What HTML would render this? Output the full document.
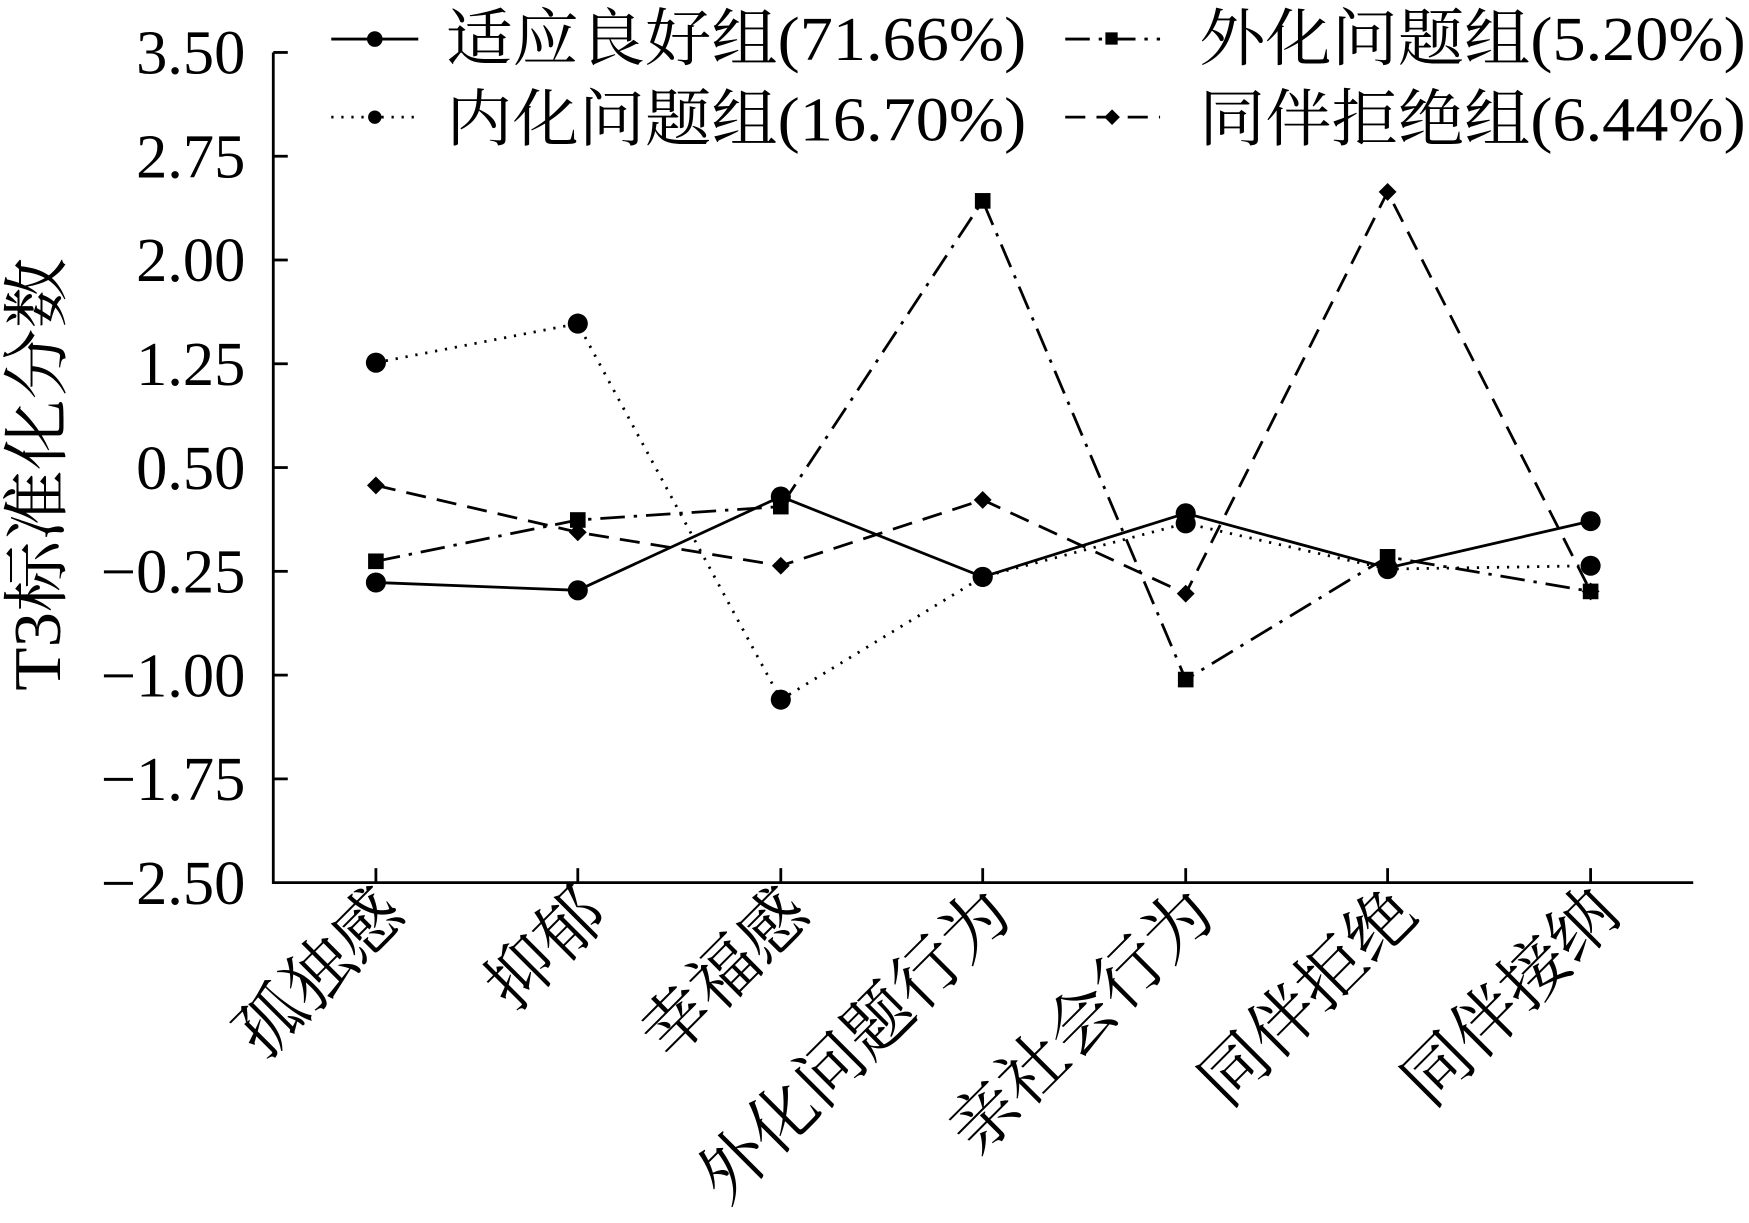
<!DOCTYPE html>
<html><head><meta charset="utf-8"><style>html,body{margin:0;padding:0;background:#fff}svg{display:block}</style></head><body>
<svg width="1749" height="1223" viewBox="0 0 1568 1096" preserveAspectRatio="none" xmlns="http://www.w3.org/2000/svg" font-family="'Liberation Serif','Noto Serif CJK SC',serif" fill="#000">
<g stroke="#000" stroke-width="2.5" fill="none">
<line x1="245" y1="47" x2="245" y2="792"/>
<line x1="244" y1="791" x2="1518" y2="791"/>
<g>
<line x1="245" y1="47" x2="258" y2="47"/><line x1="245" y1="140" x2="258" y2="140"/><line x1="245" y1="233" x2="258" y2="233"/><line x1="245" y1="326" x2="258" y2="326"/><line x1="245" y1="419" x2="258" y2="419"/><line x1="245" y1="512" x2="258" y2="512"/><line x1="245" y1="605" x2="258" y2="605"/><line x1="245" y1="698" x2="258" y2="698"/>
<line x1="337" y1="791" x2="337" y2="778"/><line x1="518" y1="791" x2="518" y2="778"/><line x1="700" y1="791" x2="700" y2="778"/><line x1="881" y1="791" x2="881" y2="778"/><line x1="1063" y1="791" x2="1063" y2="778"/><line x1="1244" y1="791" x2="1244" y2="778"/><line x1="1426" y1="791" x2="1426" y2="778"/>
</g>
<polyline points="337,522 518,529 700,445 881,517 1063,460 1244,509 1426,467"/>
<polyline stroke-dasharray="2,7" points="337,325 518,290 700,627 881,517 1063,469 1244,510 1426,507"/>
<polyline stroke-dasharray="22,8,3,8" points="337,503 518,466 700,454 881,180 1063,609 1244,499 1426,530"/>
<polyline stroke-dasharray="18,10" points="337,435 518,477 700,507 881,448 1063,532 1244,172 1426,530"/>
<line x1="297" y1="35" x2="375" y2="35"/>
<line x1="297" y1="105" x2="375" y2="105" stroke-dasharray="2,7"/>
<line x1="955" y1="35" x2="1040" y2="35" stroke-dasharray="22,8,3,8"/>
<line x1="955" y1="105" x2="1040" y2="105" stroke-dasharray="18,10"/>
</g>
<g>
<circle cx="337" cy="522" r="9"/><circle cx="518" cy="529" r="9"/><circle cx="700" cy="445" r="9"/><circle cx="881" cy="517" r="9"/><circle cx="1063" cy="460" r="9"/><circle cx="1244" cy="509" r="9"/><circle cx="1426" cy="467" r="9"/>
<circle cx="337" cy="325" r="9"/><circle cx="518" cy="290" r="9"/><circle cx="700" cy="627" r="9"/><circle cx="881" cy="517" r="9"/><circle cx="1063" cy="469" r="9"/><circle cx="1244" cy="510" r="9"/><circle cx="1426" cy="507" r="9"/>
<rect x="330" y="496" width="14" height="14"/><rect x="511" y="459" width="14" height="14"/><rect x="693" y="447" width="14" height="14"/><rect x="874" y="173" width="14" height="14"/><rect x="1056" y="602" width="14" height="14"/><rect x="1237" y="492" width="14" height="14"/><rect x="1419" y="523" width="14" height="14"/>
<path d="M337 427l8 8-8 8-8-8z M518 469l8 8-8 8-8-8z M700 499l8 8-8 8-8-8z M881 440l8 8-8 8-8-8z M1063 524l8 8-8 8-8-8z M1244 164l8 8-8 8-8-8z M1426 522l8 8-8 8-8-8z"/>
<circle cx="336" cy="35" r="7"/><circle cx="336" cy="105" r="6"/><rect x="991" y="29" width="11" height="11"/><path d="M997 98l7 7-7 7-7-7z"/>
</g>
<g font-size="56">
<text x="400" y="54" textLength="520" lengthAdjust="spacingAndGlyphs">适应良好组(71.66%)</text>
<text x="400" y="126" textLength="520" lengthAdjust="spacingAndGlyphs">内化问题组(16.70%)</text>
<text x="1075" y="54" textLength="490" lengthAdjust="spacingAndGlyphs">外化问题组(5.20%)</text>
<text x="1075" y="126" textLength="490" lengthAdjust="spacingAndGlyphs">同伴拒绝组(6.44%)</text>
</g>
<g font-size="56" text-anchor="end">
<text x="220" y="66">3.50</text><text x="220" y="159">2.75</text><text x="220" y="252">2.00</text><text x="220" y="345">1.25</text><text x="220" y="438">0.50</text><text x="220" y="531">−0.25</text><text x="220" y="624">−1.00</text><text x="220" y="717">−1.75</text><text x="220" y="810">−2.50</text>
</g>
<text font-size="60" text-anchor="middle" transform="translate(54,425) rotate(-90)" textLength="388" lengthAdjust="spacingAndGlyphs">T3标准化分数</text>
<g font-size="61" text-anchor="end">
<text transform="translate(366,822) rotate(-45)">孤独感</text>
<text transform="translate(547,822) rotate(-45)">抑郁</text>
<text transform="translate(729,822) rotate(-45)">幸福感</text>
<text transform="translate(910,822) rotate(-45)">外化问题行为</text>
<text transform="translate(1092,822) rotate(-45)">亲社会行为</text>
<text transform="translate(1273,822) rotate(-45)">同伴拒绝</text>
<text transform="translate(1455,822) rotate(-45)">同伴接纳</text>
</g>
</svg>
</body></html>
